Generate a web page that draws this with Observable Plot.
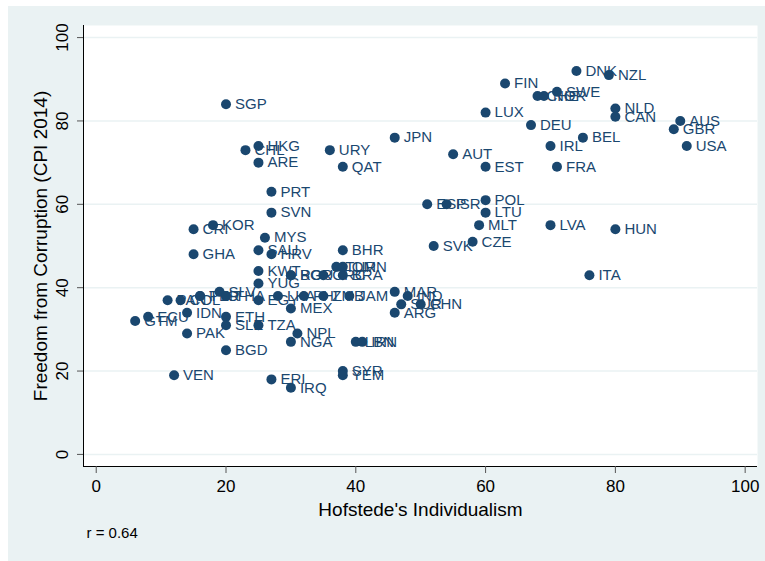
<!DOCTYPE html>
<html>
<head>
<meta charset="utf-8">
<script src="https://cdn.jsdelivr.net/npm/d3@7"></script>
<script src="https://cdn.jsdelivr.net/npm/@observablehq/plot@0.6"></script>
<style>
  html, body { margin: 0; padding: 0; background: #ffffff; }
  #wrap { position: absolute; left: 8px; top: 6px; width: 757px; height: 555px; background: #eaf2f3; }
  #wrap svg { display: block; }
</style>
</head>
<body>
<div id="wrap"></div>
<script>
const codes = ["DNK","NZL","FIN","SWE","CHE","NOR","LUX","DEU","NLD","CAN","AUS","GBR","USA","BEL","IRL","AUT","EST","FRA","JPN","URY","QAT","SGP","HKG","CHL","ARE","PRT","SVN","POL","ESP","ISR","LTU","MLT","LVA","HUN","CZE","SVK","ITA","BHR","MYS","KOR","CRI","GHA","SAU","HRV","KWT","YUG","BGR","ROU","GRC","BRA","TUR","OMN","PAN","COL","TTO","PER","SLV","THA","EGY","LKA","PHL","ZMB","JAM","MEX","ECU","GTM","IDN","ETH","SLE","TZA","PAK","BGD","VEN","ERI","IRQ","NPL","NGA","SYR","YEM","LBN","IRN","MAR","IND","SUR","CHN","ARG"];
const individualism = [74,79,63,71,68,69,60,67,80,80,90,89,91,75,70,55,60,71,46,36,38,20,25,23,25,27,27,60,51,54,60,59,70,80,58,52,76,38,26,18,15,15,25,27,25,25,30,30,35,38,37,38,11,13,16,16,19,20,25,28,32,35,39,30,8,6,14,20,20,25,14,20,12,27,30,31,30,38,38,40,41,46,48,47,50,46];
const cpi = [92,91,89,87,86,86,82,79,83,81,80,78,74,76,74,72,69,69,76,73,69,84,74,73,70,63,58,61,60,60,58,55,55,54,51,50,43,49,52,55,54,48,49,48,44,41,43,43,43,43,45,45,37,37,38,38,39,38,37,38,38,38,38,35,33,32,34,33,31,31,29,25,19,18,16,29,27,20,19,27,27,39,38,36,36,34];
const xTicks = [0,20,40,60,80,100];
const yTicks = [0,20,40,60,80,100];
const xTitle = "Hofstede's Individualism";
const yTitle = "Freedom from Corruption (CPI 2014)";
const note = "r = 0.64";

const data = codes.map((c,i) => ({code: c, idv: individualism[i], cpi: cpi[i]}));
const navy = "#1a476f";
const font = "'Liberation Sans', Arial, Helvetica, sans-serif";
const xDom = [-1.96, 101.9];
const yDom = [-2.9, 102.9];

const chart = Plot.plot({
  width: 757,
  height: 555,
  marginLeft: 75,
  marginRight: 8,
  marginTop: 19,
  marginBottom: 95,
  style: {background: "transparent", fontFamily: font, overflow: "visible"},
  x: {domain: xDom, label: null},
  y: {domain: yDom, label: null},
  marks: [
    Plot.frame({fill: "white", stroke: "none"}),
    Plot.ruleY(yTicks, {y: d => d, stroke: "#eaf2f3", strokeWidth: 1.5}),
    Plot.ruleX([xDom[0]], {stroke: "#000", strokeWidth: 1}),
    Plot.ruleY([yDom[0]], {stroke: "#000", strokeWidth: 1}),
    Plot.axisY({ticks: yTicks, tickSize: 6, tickFormat: () => "", label: null, stroke: "#555", strokeWidth: 1}),
    Plot.text(yTicks, {y: d => d, text: d => String(d), frameAnchor: "left", dx: -21, rotate: -90, textAnchor: "middle", lineAnchor: "middle", fontSize: 17, fill: "#000"}),
    Plot.axisX({ticks: xTicks, tickSize: 7, tickFormat: () => "", label: null, stroke: "#555", strokeWidth: 1}),
    Plot.text(xTicks, {x: d => d, text: d => String(d), frameAnchor: "bottom", dy: 20, textAnchor: "middle", lineAnchor: "middle", fontSize: 17, fill: "#000"}),
    Plot.text([xTitle], {frameAnchor: "bottom", dy: 43, textAnchor: "middle", lineAnchor: "middle", fontSize: 19, fill: "#000"}),
    Plot.text([yTitle], {frameAnchor: "left", dx: -43, rotate: -90, textAnchor: "middle", lineAnchor: "middle", fontSize: 19, fill: "#000"}),
    Plot.text([note], {frameAnchor: "bottom-left", dx: 3, dy: 67, textAnchor: "start", lineAnchor: "middle", fontSize: 15, fill: "#000"}),
    Plot.dot(data, {x: "idv", y: "cpi", r: 5, fill: navy, stroke: "none"}),
    Plot.text(data, {x: "idv", y: "cpi", text: "code", dx: 9, textAnchor: "start", lineAnchor: "middle", fontSize: 15, fill: navy})
  ]
});
document.getElementById("wrap").appendChild(chart);
</script>
</body>
</html>
